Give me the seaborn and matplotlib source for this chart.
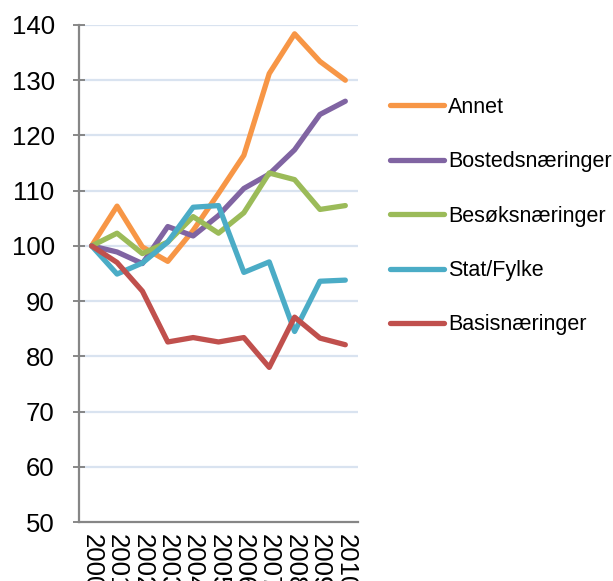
import matplotlib
matplotlib.use("Agg")
import matplotlib.pyplot as plt
from matplotlib.ticker import FixedLocator
import seaborn as sns
import pandas as pd

years = ["2000", "2001", "2002", "2003", "2004", "2005",
         "2006", "2007", "2008", "2009", "2010"]
annet = [100, 107.2, 99.8, 97.2, 102.8, 109.5, 116.4, 131.2, 138.4, 133.4, 130.0]
bosted = [100, 98.9, 96.8, 103.5, 101.8, 105.5, 110.4, 113.0, 117.4, 123.8, 126.2]
besok = [100, 102.3, 98.6, 100.7, 105.3, 102.3, 106.0, 113.2, 112.0, 106.6, 107.3]
stat = [100, 94.9, 96.9, 100.7, 107.0, 107.3, 95.2, 97.1, 84.5, 93.6, 93.8]
basis = [100, 97.0, 91.8, 82.6, 83.4, 82.6, 83.4, 78.0, 87.1, 83.3, 82.1]

series = ["Annet", "Bostedsnæringer", "Besøksnæringer", "Stat/Fylke", "Basisnæringer"]
values = [annet, bosted, besok, stat, basis]
colors = ["#F79646", "#8064A2", "#9BBB59", "#4BACC6", "#C0504D"]

rows = []
for name, vals in zip(series, values):
    for i, (yr, v) in enumerate(zip(years, vals)):
        rows.append({"pos": i, "year": yr, "series": name, "value": v})
df = pd.DataFrame(rows)

sns.set_theme(style="white")
plt.rcParams["font.family"] = ["Liberation Sans", "DejaVu Sans"]
plt.rcParams["text.color"] = "black"

fig = plt.figure(figsize=(6.13, 5.81), dpi=100)
ax = fig.add_axes([79 / 613, 59 / 581, 279 / 613, 497 / 581])

for y in range(60, 141, 10):
    ax.axhline(y, color="#D9E3F0", linewidth=1.6, zorder=0)

sns.lineplot(data=df, x="pos", y="value", hue="series", hue_order=series,
             palette=colors, linewidth=3.8, ax=ax, legend=False, zorder=3)

ax.set_xlim(-0.5, len(years) - 0.5)
ax.set_ylim(50, 140)
ax.set_yticks(range(50, 141, 10))
ax.set_xticks(range(len(years)))
ax.set_xticklabels(years, rotation=-90, va="top", ha="center")
ax.xaxis.set_minor_locator(FixedLocator([i - 0.5 for i in range(len(years) + 1)]))
ax.tick_params(axis="x", which="major", length=0, pad=9, labelsize=18.5, colors="black")
ax.tick_params(axis="x", which="minor", length=6, width=1.2, color="#868686", direction="out")
ax.tick_params(axis="y", length=9, width=1.3, color="#7F7F7F", direction="inout",
               labelsize=18.5, labelcolor="black", pad=13, left=True)
ax.set_xlabel("")
ax.set_ylabel("")
for side in ["top", "right"]:
    ax.spines[side].set_visible(False)
for side in ["left", "bottom"]:
    ax.spines[side].set_color("#868686")
    ax.spines[side].set_linewidth(1.6)

handles = [plt.Line2D([], [], color=c, linewidth=3.8, solid_capstyle="round") for c in colors]
leg = fig.legend(handles, series, loc="upper left", bbox_to_anchor=(390 / 613, 1 - 97 / 581),
                 frameon=False, fontsize=15.5, handlelength=2.5, handletextpad=0.2,
                 labelspacing=1.55, borderaxespad=0, borderpad=0)
for t in leg.get_texts():
    t.set_color("black")

fig.savefig("out.png", dpi=100)
